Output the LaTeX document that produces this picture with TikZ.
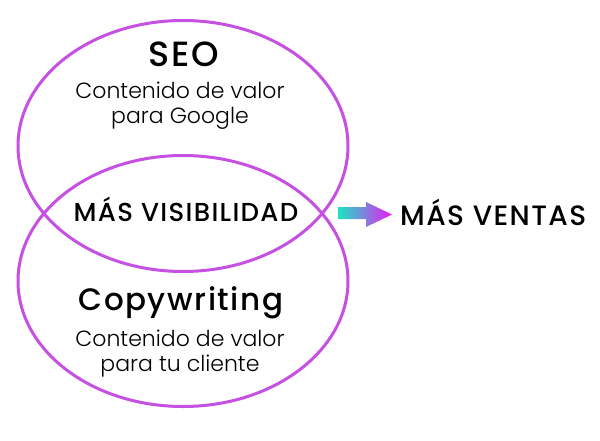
\documentclass[tikz,border=0pt]{standalone}
\usepackage{fontspec}
\setmainfont{Poppins}
\newfontfamily\lightfont{Poppins Light}
\newfontfamily\midfont{Poppins Medium}[LetterSpace=5]
\usetikzlibrary{shapes}
\usetikzlibrary{positioning}
\definecolor{ringpurple}{RGB}{197,80,225}
\definecolor{flowteal}{RGB}{25,230,195}
\definecolor{flowpink}{RGB}{235,25,245}

\begin{document}
\begin{tikzpicture}[x=1pt, y=-1pt,
            ring/.style = {ellipse, draw=ringpurple, line width=3pt,
                minimum width=330pt, minimum height=251pt, inner sep=0pt},
            title/.style = {font=\midfont\fontsize{35}{37}\selectfont, inner sep=0pt},
            sub/.style = {font=\lightfont\fontsize{22}{25}\selectfont,
                align=center, inner sep=0pt},
            caps/.style = {font=\midfont\fontsize{26}{28}\selectfont, inner sep=0pt},
            flow/.style = {left color=flowteal, right color=flowpink}]
            \useasboundingbox (0,0) rectangle (600,440);
            % the two circles
            \node[ring] (seo) at (183,146) {};
            \node[ring] (copy) at (183,281) {};
            % texts
            \node[title, anchor=base] (seot) at (184,66) {SEO};
            \node[sub] (seos) at (180,106) {Contenido de valor\\para Google};
            \node[caps, anchor=base] (both) at (186,221) {MÁS VISIBILIDAD};
            \node[title, font=\midfont\fontsize{31}{33}\selectfont, anchor=base] (copyt) at (181,310) {Copywriting};
            \node[sub] (copys) at (180,354) {Contenido de valor\\para tu cliente};
            % arrow out of the overlap
            \coordinate (tail) at (338,213);
            \coordinate (tip) at (392,214.5);
            \shade[flow] (tail) ++(0,-6) -- ++(28,0) -- ++(0,-5) -- (tip)
                -- ++(-26,12.5) -- ++(0,-8) -- ++(-28,0) -- cycle;
            \node[caps, font=\midfont\fontsize{28}{30}\selectfont, anchor=base west] (sales) at (400,225) {MÁS VENTAS};
        \end{tikzpicture}
\end{document}
